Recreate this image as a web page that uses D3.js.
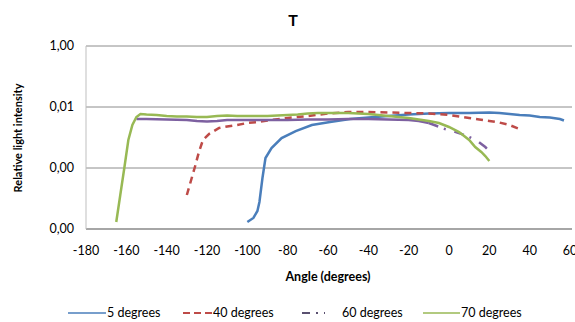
<!DOCTYPE html>
<html>
<head>
<meta charset="utf-8">
<script src="https://cdn.jsdelivr.net/npm/d3@7"></script>
<style>
  body { margin: 0; background: #fff; }
  text { font-family: Lato, "Open Sans", sans-serif; fill: #000; }
</style>
</head>
<body>
<div class="chart"></div>
<script>
// log-scale gridlines and their labels
const yTicks = [1, 1e-2, 1e-4, 1e-6];
const xTicks = [-180, -160, -140, -120, -100, -80, -60, -40, -20, 0, 20, 40, 60];

const angles5 = [-100, -97, -95, -94, -92.5, -91, -88, -83, -76, -68, -59, -49, -40, -30, -20, -10, 0, 10, 20, 25, 30, 35, 40, 45, 50, 55, 57];
const values5 = [1.7e-6, 2.3e-6, 3.9e-6, 7.7e-6, 4.7e-5, 2.13e-4, 4.53e-4, 9.6e-4, 1.63e-3, 2.57e-3, 3.22e-3, 4.04e-3, 4.53e-3, 5.07e-3, 5.67e-3, 6.12e-3, 6.36e-3, 6.36e-3, 6.61e-3, 6.36e-3, 5.89e-3, 5.47e-3, 5.27e-3, 4.7e-3, 4.53e-3, 4.04e-3, 3.61e-3];

const angles40 = [-130, -128, -126, -124, -122, -119, -114, -110, -105, -100, -95, -90, -80, -70, -60, -50, -40, -30, -20, -10, 0, 5, 10, 15, 20, 25, 30, 35];
const values40 = [1.3e-5, 3.75e-5, 1.08e-4, 3.35e-4, 8.3e-4, 1.3e-3, 2.05e-3, 2.3e-3, 2.57e-3, 2.99e-3, 3.22e-3, 3.61e-3, 4.36e-3, 5.07e-3, 6.12e-3, 6.86e-3, 6.86e-3, 6.61e-3, 6.36e-3, 6.12e-3, 5.47e-3, 4.89e-3, 4.36e-3, 3.89e-3, 3.48e-3, 3.1e-3, 2.57e-3, 1.9e-3];

const angles60 = [-155, -150, -140, -130, -125, -120, -115, -110, -100, -90, -80, -70, -60, -50, -40, -30, -20, -15, -10, -6, -2, 2, 6, 10, 14, 18, 20];
const values60 = [4.04e-3, 4.04e-3, 3.89e-3, 3.75e-3, 3.48e-3, 3.35e-3, 3.48e-3, 3.75e-3, 3.75e-3, 3.75e-3, 3.75e-3, 3.89e-3, 3.89e-3, 4.04e-3, 4.04e-3, 3.89e-3, 3.75e-3, 3.48e-3, 2.99e-3, 2.38e-3, 1.9e-3, 1.63e-3, 1.31e-3, 1.04e-3, 7.7e-4, 4.88e-4, 3.6e-4];

const angles70 = [-165, -163, -161, -159, -157, -155, -153, -150, -145, -140, -135, -130, -125, -120, -115, -110, -105, -100, -95, -90, -85, -80, -75, -70, -65, -60, -55, -50, -45, -40, -35, -30, -25, -20, -15, -10, -5, 0, 5, 10, 13, 16, 18, 20];
const values70 = [1.7e-6, 1.3e-5, 1.0e-4, 8.3e-4, 2.57e-3, 4.7e-3, 5.89e-3, 5.67e-3, 5.47e-3, 5.07e-3, 4.89e-3, 4.89e-3, 4.7e-3, 4.7e-3, 5.07e-3, 5.27e-3, 5.07e-3, 5.07e-3, 5.07e-3, 5.07e-3, 5.27e-3, 5.47e-3, 5.67e-3, 6.12e-3, 6.36e-3, 6.36e-3, 6.36e-3, 6.36e-3, 6.12e-3, 5.89e-3, 5.47e-3, 5.07e-3, 4.7e-3, 4.36e-3, 3.89e-3, 3.48e-3, 2.99e-3, 2.21e-3, 1.51e-3, 8.3e-4, 4.88e-4, 3.35e-4, 2.47e-4, 1.7e-4];

const seriesNames = ["5 degrees", "40 degrees", "60 degrees", "70 degrees"];

const WIDTH = 575, HEIGHT = 322;
const margin = {left: 86, right: 5, top: 46, bottom: 93};

const series = [
  {name: seriesNames[0], xs: angles5, ys: values5, color: "#4a7ebb", dash: null},
  {name: seriesNames[1], xs: angles40, ys: values40, color: "#be4b48", dash: "7,5"},
  {name: seriesNames[2], xs: angles60, ys: values60, color: "#7d60a0", dash: "10,6,2,9", dashFrom: -10},
  {name: seriesNames[3], xs: angles70, ys: values70, color: "#98b954", dash: null}
];

const svg = d3.select(".chart").append("svg")
  .attr("width", WIDTH)
  .attr("height", HEIGHT);

const x = d3.scaleLinear().domain([-180, 60]).range([margin.left, 570]);
const y = d3.scaleLog().domain([1e-6, 1]).range([HEIGHT - margin.bottom, margin.top]);

const fmt = v => d3.format(".2f")(v).replace(".", ",");

// gridlines
svg.append("g").selectAll("line")
  .data(yTicks)
  .enter().append("line")
  .attr("x1", margin.left).attr("x2", 572)
  .attr("y1", d => y(d)).attr("y2", d => y(d))
  .attr("stroke", d => d === 1e-6 ? "#a6a6a6" : "#8c8c8c")
  .attr("stroke-width", d => d === 1e-6 ? 2 : 1);

svg.append("line")
  .attr("x1", margin.left).attr("x2", margin.left)
  .attr("y1", y(1)).attr("y2", y(1e-6))
  .attr("stroke", "#bfbfbf");

// y labels
svg.append("g").selectAll("text")
  .data(yTicks)
  .enter().append("text")
  .attr("x", 74)
  .attr("y", d => y(d) + 4)
  .attr("text-anchor", "end")
  .attr("font-size", 12.5)
  .text(fmt);

// x labels
svg.append("g").selectAll("text")
  .data(xTicks)
  .enter().append("text")
  .attr("x", d => x(d))
  .attr("y", 255)
  .attr("text-anchor", "middle")
  .attr("font-size", 12.5)
  .text(d => d);

const line = d3.line().x(d => x(d[0])).y(d => y(d[1]));

series.forEach(s => {
  const pts = s.xs.map((a, i) => [a, s.ys[i]]);
  if (s.dashFrom !== undefined) {
    svg.append("path")
      .attr("d", line(pts.filter(p => p[0] <= s.dashFrom)))
      .attr("fill", "none").attr("stroke", s.color).attr("stroke-width", 2.5);
    svg.append("path")
      .attr("d", line(pts.filter(p => p[0] >= s.dashFrom)))
      .attr("fill", "none").attr("stroke", s.color).attr("stroke-width", 2.5)
      .attr("stroke-dasharray", s.dash);
  } else {
    svg.append("path")
      .attr("d", line(pts))
      .attr("fill", "none").attr("stroke", s.color).attr("stroke-width", 2.5)
      .attr("stroke-dasharray", s.dash);
  }
});

// titles
svg.append("text")
  .attr("x", 293).attr("y", 26)
  .attr("text-anchor", "middle")
  .attr("font-size", 16).attr("font-weight", "bold")
  .text("T");

svg.append("text")
  .attr("transform", "translate(22,138) rotate(-90)")
  .attr("text-anchor", "middle")
  .attr("font-size", 11).attr("font-weight", "bold")
  .text("Relative light intensity");

svg.append("text")
  .attr("x", 328).attr("y", 281)
  .attr("text-anchor", "middle")
  .attr("font-size", 12.5).attr("font-weight", "bold")
  .text("Angle (degrees)");

// legend
const legendPos = [{x1: 68, x2: 106}, {x1: 183, x2: 212}, {x1: 302, x2: 325}, {x1: 423, x2: 460}];
const legendText = [107, 213, 342, 461];
const legendDash = [null, "7,4", "8,6,2,6", null];
const ly = 313;
series.forEach((s, i) => {
  svg.append("line")
    .attr("x1", legendPos[i].x1).attr("x2", legendPos[i].x2)
    .attr("y1", ly).attr("y2", ly)
    .attr("stroke", i === 2 ? "#5a5070" : s.color)
    .attr("stroke-width", i === 0 || i === 3 ? 1.5 : 2)
    .attr("stroke-dasharray", legendDash[i]);
  svg.append("text")
    .attr("x", legendText[i]).attr("y", ly + 4)
    .attr("font-size", 12.5)
    .text(s.name);
});
</script>
</body>
</html>
